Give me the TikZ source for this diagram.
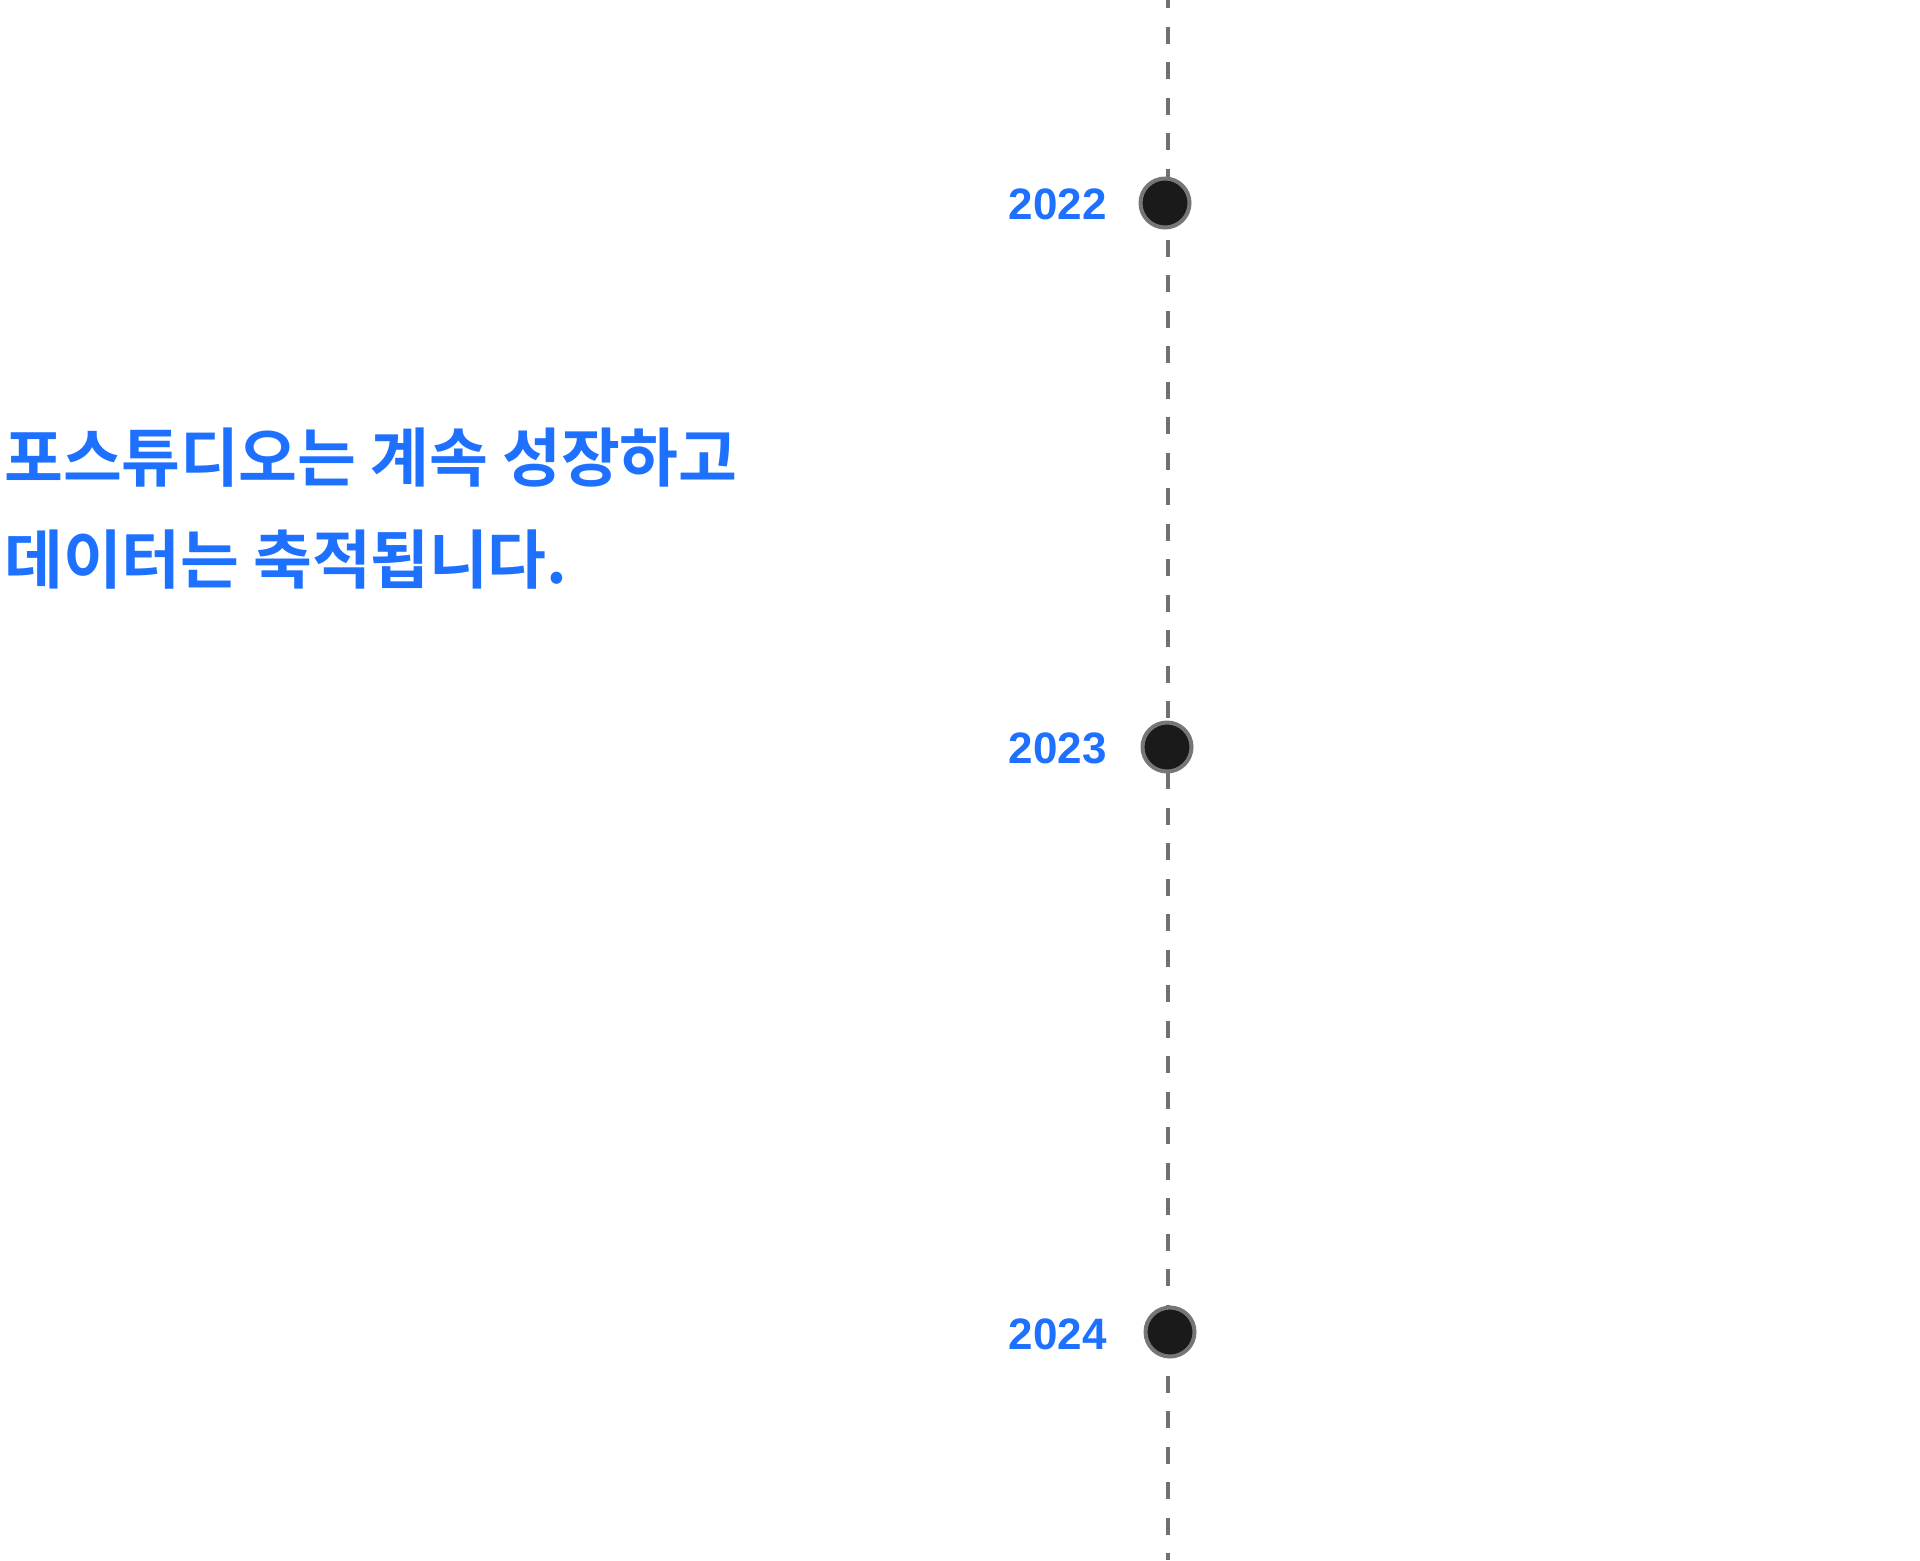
\documentclass[tikz,border=0pt]{standalone}
\usepackage{fontspec}
\newfontfamily\krfont[LetterSpace=-0.4]{Noto Sans CJK KR Bold}
\newfontfamily\yearfont{Liberation Sans}
\usetikzlibrary{positioning}
\definecolor{brandblue}{RGB}{30,112,255}
\definecolor{lineGray}{RGB}{112,112,112}
\definecolor{ringGray}{RGB}{118,118,118}
\definecolor{dotFill}{RGB}{26,26,26}
\begin{document}
\begin{tikzpicture}[x=0.5pt,y=-0.5pt,
  headline/.style={anchor=base west,inner sep=0pt,text=brandblue,font=\krfont\fontsize{32pt}{40pt}\selectfont},
  yearlabel/.style={anchor=east,inner sep=0pt,text=brandblue,font=\yearfont\bfseries\fontsize{22pt}{26pt}\selectfont},
  dot/.style={circle,draw=ringGray,line width=2pt,fill=dotFill,minimum size=24.5pt,inner sep=0pt},
  timeline/.style={draw=lineGray,line width=2pt,dash pattern=on 8.5pt off 9.25pt,dash phase=4.5pt}]
\fill[white] (0,0) rectangle (1920,1560);
\useasboundingbox (0,0) rectangle (1920,1560);
\coordinate (top) at (1168,0);
\coordinate (bot) at (1168,1560);
\draw[timeline] (top) -- (bot);
\node[dot] (d22) at (1165,203) {};
\node[dot] (d23) at (1167,747) {};
\node[dot] (d24) at (1170,1332) {};
\node[yearlabel] (y22) at (1107,204) {2022};
\node[yearlabel] (y23) at (1107,748) {2023};
\node[yearlabel] (y24) at (1107,1334) {2024};
\node[headline] (h1) at (4,481) {포스튜디오는 계속 성장하고};
\node[headline] (h2) at (4,583) {데이터는 축적됩니다.};
\end{tikzpicture}
\end{document}
